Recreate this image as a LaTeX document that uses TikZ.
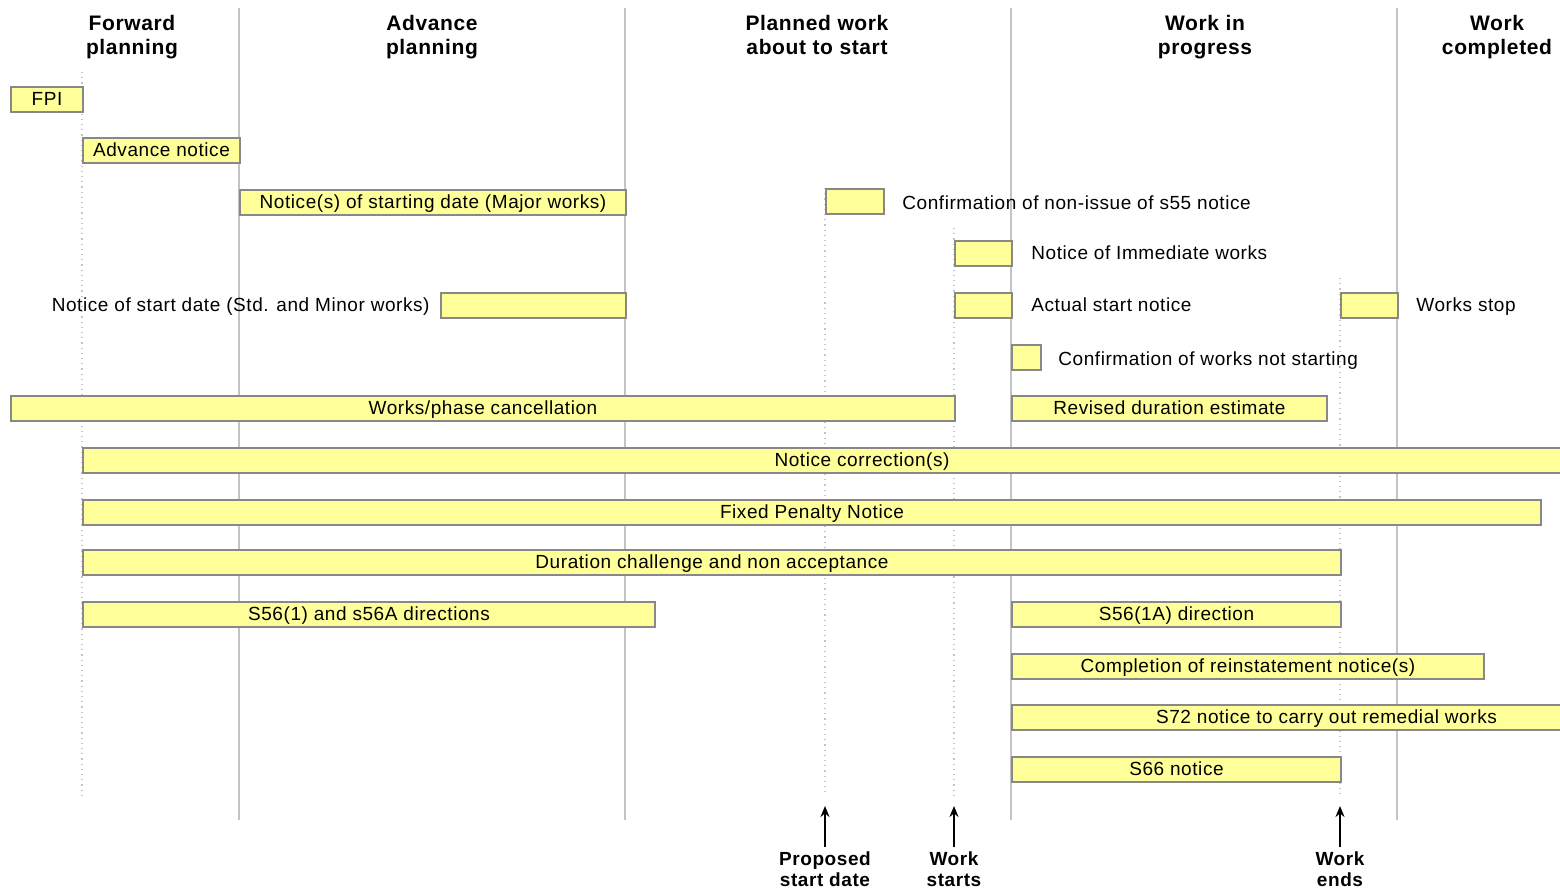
\documentclass[tikz,border=0pt]{standalone}
\usepackage{fontspec}
\setmainfont{Liberation Sans}[LetterSpace=3]
\usetikzlibrary{arrows.meta}
\definecolor{barfill}{HTML}{FFFF99}
\definecolor{barline}{HTML}{888888}
\definecolor{gridline}{HTML}{C4C4C4}
\tikzset{
  barbox/.style={draw=barline, fill=barfill, line width=1pt, minimum height=12.5pt,
    inner sep=0pt, text height=8pt, text depth=1.2pt, font=\fontsize{9.5}{11}\selectfont},
  note/.style={font=\fontsize{9.5}{11}\selectfont, inner sep=0pt, text height=8pt, text depth=1.2pt},
  phase/.style={font=\bfseries\fontsize{10.5}{12}\selectfont, align=center, inner sep=0pt, anchor=north},
  marker/.style={font=\bfseries\fontsize{9.5}{10.5}\selectfont, align=center, inner sep=0pt},
  phaseline/.style={draw=gridline, line width=0.75pt},
  guide/.style={draw=gridline, line width=0.6pt, dotted},
  pointer/.style={line width=1pt, -{Stealth[length=5.5pt,width=4.5pt]}},
}
% bar from x1 to x2, centred vertically on y
\newcommand\gbar[5]{%
  \node[barbox, minimum width={(#3-#2)*0.5pt}, anchor=west] (#1) at (#2,#4) {#5};}
\begin{document}
\begin{tikzpicture}[x=0.5pt,y=-0.5pt]
\clip (0,0) rectangle (1560,890);
\fill[white] (0,0) rectangle (1560,890);

% phase boundaries
\foreach \px in {239,625,1011,1397}
  \draw[phaseline] (\px,8) -- (\px,820);

% milestone guides
\draw[guide] (82,72) -- (82,795);
\draw[guide] (825,188) -- (825,795);
\draw[guide] (954,228) -- (954,795);
\draw[guide] (1340,278) -- (1340,795);

% phase headings
\node[phase] (h1) at (132,15) {Forward\\planning};
\node[phase] (h2) at (432,15) {Advance\\planning};
\node[phase] (h3) at (817,15) {Planned work\\about to start};
\node[phase] (h4) at (1205,15) {Work in\\progress};
\node[phase] (h5) at (1497,15) {Work\\completed};

% notices
\gbar{fpi}{10}{82}{99}{FPI}
\gbar{adv}{82}{239}{150}{Advance notice}
\gbar{major}{239}{625}{202}{Notice(s) of starting date (Major works)}
\gbar{nons55}{825}{883}{201}{}
\node[note, anchor=west] (nons55t) at (902,203) {Confirmation of non-issue of s55 notice};
\gbar{immed}{954}{1011}{253}{}
\node[note, anchor=west] (immedt) at (1031,253) {Notice of Immediate works};
\node[note, anchor=east] (minort) at (430,305) {Notice of start date (Std. and Minor works)};
\gbar{minor}{440}{625}{305}{}
\gbar{actual}{954}{1011}{305}{}
\node[note, anchor=west] (actualt) at (1031,305) {Actual start notice};
\gbar{stop}{1340}{1397}{305}{}
\node[note, anchor=west] (stopt) at (1416,305) {Works stop};
\gbar{notstart}{1011}{1040}{357}{}
\node[note, anchor=west] (notstartt) at (1058,359) {Confirmation of works not starting};
\gbar{cancel}{10}{954}{408}{Works/phase cancellation}
\gbar{revised}{1011}{1326}{408}{Revised duration estimate}
\gbar{correct}{82}{1640}{460}{Notice correction(s)}
\gbar{fpn}{82}{1540}{512}{Fixed Penalty Notice}
\gbar{challenge}{82}{1340}{562}{Duration challenge and non acceptance}
\gbar{sfiftysix}{82}{654}{614}{S56(1) and s56A directions}
\gbar{sfiftysixa}{1011}{1340}{614}{S56(1A) direction}
\gbar{reinst}{1011}{1483}{666}{Completion of reinstatement notice(s)}
\gbar{sseventytwo}{1011}{1640}{717}{S72 notice to carry out remedial works}
\gbar{ssixtysix}{1011}{1340}{769}{S66 notice}

% milestones
\node[marker] (m1) at (825,869) {Proposed\\start date};
\node[marker] (m2) at (954,869) {Work\\starts};
\node[marker] (m3) at (1340,869) {Work\\ends};
\coordinate (m1top) at (825,806);
\coordinate (m2top) at (954,806);
\coordinate (m3top) at (1340,806);
\draw[pointer] (m1.north) ++(0,-4) -- (m1top);
\draw[pointer] (m2.north) ++(0,-4) -- (m2top);
\draw[pointer] (m3.north) ++(0,-4) -- (m3top);
\end{tikzpicture}
\end{document}
